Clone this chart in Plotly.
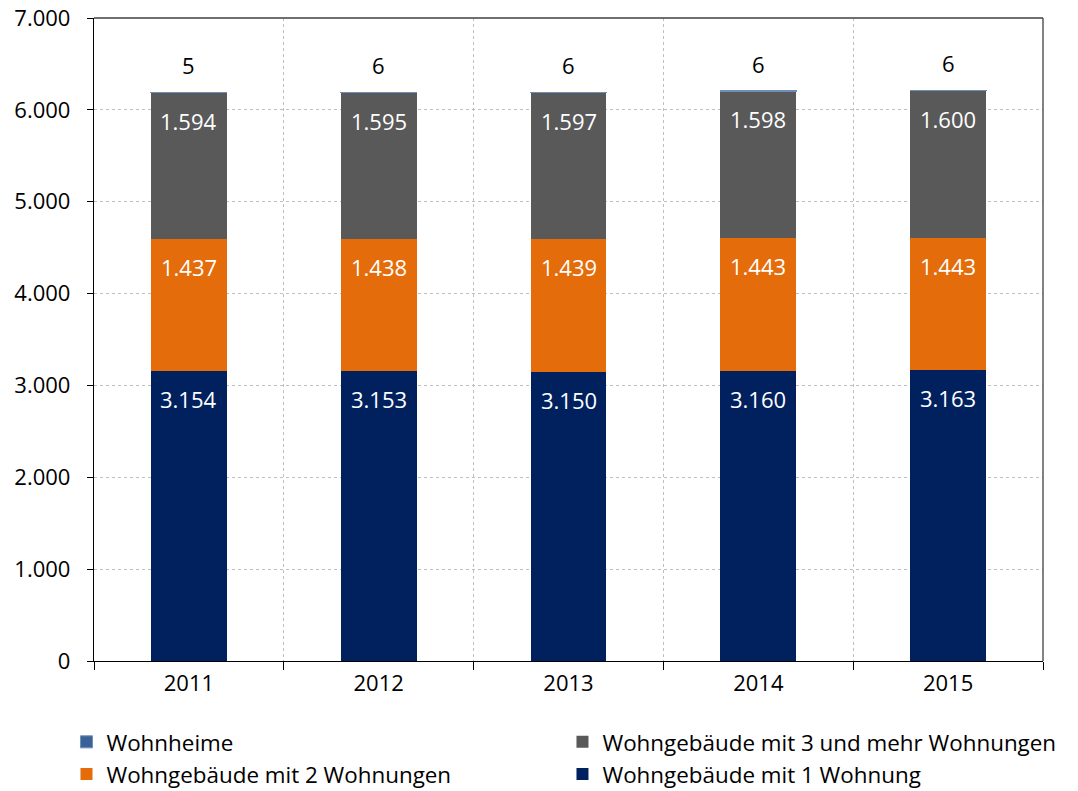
import plotly.graph_objects as go

years = ["2011", "2012", "2013", "2014", "2015"]
w1 = [3154, 3153, 3150, 3160, 3163]
w2 = [1437, 1438, 1439, 1443, 1443]
w3 = [1594, 1595, 1597, 1598, 1600]
wh = [5, 6, 6, 6, 6]

names = ["Wohngebäude mit 1 Wohnung", "Wohngebäude mit 2 Wohnungen",
         "Wohngebäude mit 3 und mehr Wohnungen", "Wohnheime"]
colors = ["#00205E", "#E46C0A", "#595959", "#3A6296"]
series = [w1, w2, w3, wh]

FONT = "Open Sans"

def fmt(v):
    return f"{v:,}".replace(",", ".")

fig = go.Figure()
for i, (name, vals, col) in enumerate(zip(names, series, colors)):
    fig.add_trace(go.Bar(x=years, y=vals, name=name, marker_color=col,
                         marker_line_width=(1 if i == 3 else 0),
                         marker_line_color="#6F8FB8",
                         hoverinfo="y+name"))

annotations = []
cum = [0] * len(years)
for i, vals in enumerate(series):
    for j, v in enumerate(vals):
        cum[j] += v
        if i < 3:
            annotations.append(dict(x=j, y=cum[j], text=fmt(v), showarrow=False,
                                    yanchor="middle", yshift=-28,
                                    font=dict(color="white", size=22, family=FONT)))
        else:
            annotations.append(dict(x=j, y=cum[j], text=fmt(v), showarrow=False,
                                    yanchor="middle", yshift=27,
                                    font=dict(color="black", size=22, family=FONT)))

fig.update_layout(
    barmode="stack",
    bargap=0.6,
    width=1070, height=783,
    margin=dict(l=86, r=35, t=10, b=130, autoexpand=False),
    paper_bgcolor="white", plot_bgcolor="white",
    separators=",.",
    font=dict(family=FONT, size=22, color="black"),
    annotations=annotations,
    showlegend=True,
    legend=dict(orientation="h", x=-0.029, y=-0.093, xanchor="left", yanchor="top",
                traceorder="reversed", entrywidth=451, entrywidthmode="pixels",
                font=dict(size=22.4, family=FONT), itemwidth=30,
                tracegroupgap=0),
    shapes=[
        dict(type="line", xref="paper", yref="paper", x0=0, x1=1, y0=1, y1=1,
             line=dict(color="#404040", width=1.3)),
        dict(type="line", xref="paper", yref="paper", x0=1, x1=1, y0=0, y1=1,
             line=dict(color="#404040", width=1.3)),
    ],
)
fig.update_yaxes(range=[0, 7000], dtick=1000, tickformat=",d", automargin=False,
                 ticklabeloverflow="allow",
                 showgrid=True, gridcolor="#BFBFBF", griddash="dot", gridwidth=1,
                 showline=True, linecolor="black", linewidth=1.3,
                 ticks="outside", ticklen=6, tickcolor="black",
                 ticklabelstandoff=12,
                 tickfont=dict(size=22, family=FONT), zeroline=False)
fig.update_xaxes(type="category", tickson="boundaries", automargin=False,
                 showgrid=True, gridcolor="#BFBFBF", griddash="dot", gridwidth=1,
                 showline=True, linecolor="black", linewidth=1.3,
                 ticks="outside", ticklen=8, tickcolor="black",
                 ticklabelstandoff=2,
                 tickfont=dict(size=22, family=FONT))

fig.write_html("out.html")
